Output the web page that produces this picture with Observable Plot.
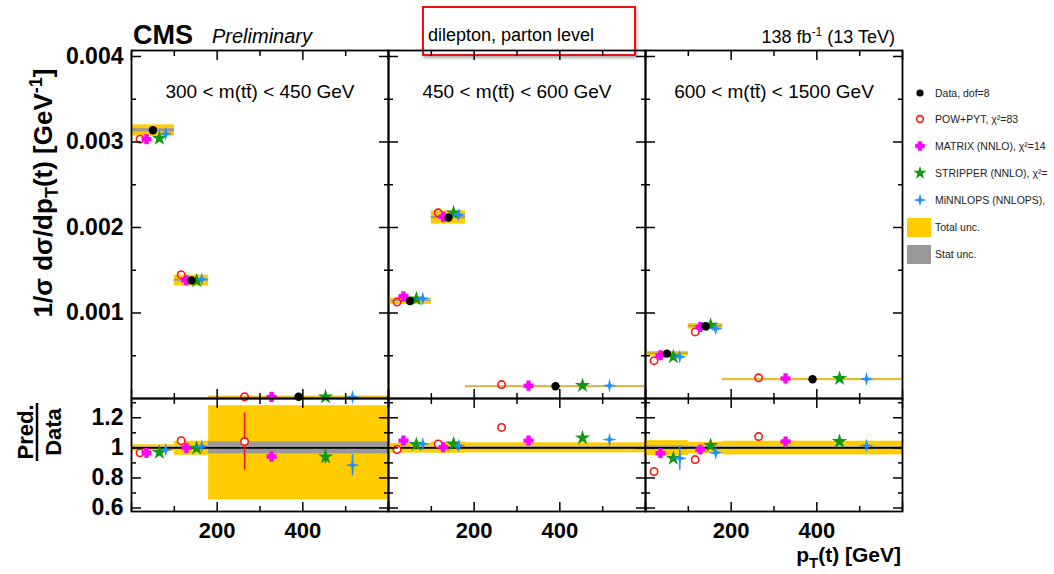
<!DOCTYPE html>
<html>
<head>
<meta charset="utf-8">
<script src="https://cdn.jsdelivr.net/npm/d3@7"></script>
<script src="https://cdn.jsdelivr.net/npm/@observablehq/plot@0.6"></script>
<style>
  html, body { margin: 0; padding: 0; background: #fff; }
  #root { position: relative; width: 1054px; height: 574px; overflow: hidden; font-family: "Liberation Sans", Arial, Helvetica, sans-serif; }
  #annot { position: absolute; left: 422px; top: 6px; width: 210px; height: 46px; border: 2.5px solid #ee1111; box-shadow: 1px 2px 3px rgba(0,0,0,0.35); }
</style>
</head>
<body>
<div id="root"><div id="annot"></div></div>
<script>
// ---------------- data ----------------
const panelLabels = ["300 < m(tt\u0304) < 450 GeV", "450 < m(tt\u0304) < 600 GeV", "600 < m(tt\u0304) < 1500 GeV"];
const binLow  = [0, 100, 180];
const binHigh = [100, 180, 600];

const xTicksMajor = [0, 200, 400, 600];
const xTicksMinor = [100, 300, 500];
const xTickLabels = [200, 400];
const yTicksMain = [0.001, 0.002, 0.003, 0.004];
const yTicksMainMinor = [0.0005, 0.0015, 0.0025, 0.0035];
const yTicksRatio = [0.6, 0.8, 1.0, 1.2];
const yTicksRatioMinor = [0.7, 0.9, 1.1, 1.3];

// measured normalised cross section, per m(tt) panel, per pT bin
const dataXsec = [
  [0.003137, 0.001382, 0.00002],
  [0.001140, 0.002116, 0.000143],
  [0.000525, 0.000845, 0.000225]
];
// relative uncertainties
const totUncUp   = [[0.020, 0.044, 0.280], [0.030, 0.037, 0.033], [0.048, 0.037, 0.044]];
const totUncDown = [[0.022, 0.049, 0.345], [0.035, 0.036, 0.033], [0.051, 0.040, 0.047]];
const statUnc    = [[0.006, 0.008, 0.040], [0.005, 0.006, 0.008], [0.013, 0.010, 0.008]];

// prediction / data ratios and their uncertainties
const ratioPOW      = [[0.967, 1.048, 1.042], [0.989, 1.026, 1.136], [0.843, 0.922, 1.075]];
const errPOW        = [[0.008, 0.012, 0.190], [0.004, 0.005, 0.008], [0.022, 0.010, 0.010]];
const ratioMATRIX   = [[0.967, 1.000, 0.942], [1.048, 1.004, 1.048], [0.964, 0.989, 1.042]];
const errMATRIX     = [[0.005, 0.006, 0.030], [0.004, 0.004, 0.006], [0.012, 0.006, 0.006]];
const ratioSTRIPPER = [[0.970, 0.997, 0.940], [1.022, 1.026, 1.066], [0.931, 1.015, 1.042]];
const errSTRIPPER   = [[0.005, 0.006, 0.045], [0.004, 0.004, 0.006], [0.012, 0.006, 0.006]];
const ratioMINNLO   = [[0.987, 1.010, 0.885], [1.026, 1.015, 1.055], [0.931, 0.967, 1.015]];
const errMINNLO     = [[0.006, 0.008, 0.070], [0.005, 0.005, 0.008], [0.080, 0.012, 0.008]];

const legendLabels = ["Data, dof=8", "POW+PYT, \u03c7\u00b2=83", "MATRIX (NNLO), \u03c7\u00b2=14", "STRIPPER (NNLO), \u03c7\u00b2=", "MiNNLOPS (NNLOPS), ", "Total unc.", "Stat unc."];

// ---------------- styles ----------------
const FONT = '"Liberation Sans", Arial, Helvetica, sans-serif';
const YELLOW = "#ffcc00", GRAY = "#999999";
const star4 = {
  draw(ctx, size) {
    const r = Math.sqrt(size) * 0.72, w = r * 0.2;
    ctx.moveTo(0, -r); ctx.lineTo(w, -w); ctx.lineTo(r, 0); ctx.lineTo(w, w);
    ctx.lineTo(0, r); ctx.lineTo(-w, w); ctx.lineTo(-r, 0); ctx.lineTo(-w, -w); ctx.closePath();
  }
};
const models = [
  {ratio: ratioPOW, err: errPOW, slot: -2, color: "#ff1111", symbol: "circle", fill: "none", r: 3.7},
  {ratio: ratioMATRIX, err: errMATRIX, slot: -1, color: "#ff00ff", symbol: "cross", fill: "#ff00ff", r: 3.6},
  {ratio: ratioSTRIPPER, err: errSTRIPPER, slot: 1, color: "#119911", symbol: "star", fill: "#119911", r: 4.8},
  {ratio: ratioMINNLO, err: errMINNLO, slot: 2, color: "#1e90ff", symbol: star4, fill: "#1e90ff", r: 5.6}
];
const pointSpread = 0.15;

const panelLeft = [131, 388, 645];
const PW = 257, TOP_MAIN = 50, HM = 348, TOP_RATIO = 398, HR = 113;

// ---------------- helpers ----------------
function binRows(p) {
  return binLow.map((lo, b) => {
    const v = dataXsec[p][b], hi = binHigh[b];
    return {lo, hi, c: (lo + hi) / 2, v,
      tLo: v * (1 - totUncDown[p][b]), tHi: v * (1 + totUncUp[p][b]),
      sLo: v * (1 - statUnc[p][b]), sHi: v * (1 + statUnc[p][b]),
      rtLo: 1 - totUncDown[p][b], rtHi: 1 + totUncUp[p][b],
      rsLo: 1 - statUnc[p][b], rsHi: 1 + statUnc[p][b]};
  });
}
function modelRows(p, m) {
  return binLow.map((lo, b) => {
    const hi = binHigh[b], w = hi - lo, r = m.ratio[p][b], e = m.err[p][b];
    return {x: (lo + hi) / 2 + m.slot * pointSpread * w, r, rLo: r - e, rHi: r + e, v: dataXsec[p][b] * r};
  });
}
function symbolStroke(m) {
  // open circle: coloured outline; cross: same-colour rounded outline (ROOT "full cross" look)
  if (m.fill === "none") return m.color;
  if (m.symbol === "cross") return m.color;
  return "none";
}
function frameAxes(yMaj, yMin, fmtY, showY, showX) {
  const tk = {tickFormat: () => "", stroke: "black", strokeWidth: 1.5, label: null};
  const m = [];
  for (const [ticks, size] of [[xTicksMajor, 9], [xTicksMinor, 5]]) {
    m.push(Plot.axisX(ticks, {...tk, anchor: "bottom", tickSize: size, dy: -size}));
    m.push(Plot.axisX(ticks, {...tk, anchor: "top", tickSize: size, dy: size}));
  }
  for (const [ticks, size] of [[yMaj, 10], [yMin, 5]]) {
    m.push(Plot.axisY(ticks, {...tk, anchor: "left", tickSize: size, dx: size}));
    m.push(Plot.axisY(ticks, {...tk, anchor: "right", tickSize: size, dx: -size}));
  }
  if (showY) m.push(Plot.axisY(yMaj, {anchor: "left", tickSize: 0, tickPadding: 8, tickFormat: fmtY, fontSize: 23, fontWeight: "bold", label: null, fill: "black"}));
  if (showX) m.push(Plot.axisX(xTickLabels, {anchor: "bottom", tickSize: 0, tickPadding: 11, fontSize: 22, fontWeight: "bold", label: null, fill: "black"}));
  return m;
}
const baseOpts = {
  width: PW, marginLeft: 0, marginRight: 0, marginTop: 0, marginBottom: 0,
  style: {background: "transparent", overflow: "visible", fontFamily: FONT, color: "black"}
};

const root = document.getElementById("root");
function place(el, left, top) {
  el.style.position = "absolute"; el.style.left = left + "px"; el.style.top = top + "px";
  root.appendChild(el);
}

// ---------------- panels ----------------
for (let p = 0; p < 3; p++) {
  const bins = binRows(p);
  const mainMarks = [
    Plot.ruleY(bins, {x1: "lo", x2: "hi", y: "v", stroke: "#c8b46e", strokeWidth: 2}),
    Plot.rect(bins, {x1: "lo", x2: "hi", y1: "tLo", y2: "tHi", fill: YELLOW}),
    Plot.rect(bins, {x1: "lo", x2: "hi", y1: "sLo", y2: "sHi", fill: GRAY})
  ];
  for (const m of models) {
    mainMarks.push(Plot.dot(modelRows(p, m), {x: "x", y: "v", symbol: m.symbol, r: m.r,
      fill: m.fill, stroke: symbolStroke(m), strokeWidth: 1.6, strokeLinejoin: "round"}));
  }
  mainMarks.push(Plot.dot(bins, {x: "c", y: "v", r: 4.2, fill: "black"}));
  mainMarks.push(Plot.text([panelLabels[p]], {frameAnchor: "top", dy: 34, fontSize: 19, fill: "black"}));
  mainMarks.push(...frameAxes(yTicksMain, yTicksMainMinor, d3.format(".3f"), p === 0, false));
  mainMarks.push(Plot.frame({stroke: "black", strokeWidth: 1.8}));
  const mainPlot = Plot.plot({...baseOpts, height: HM,
    x: {domain: [0, 600], axis: null, label: null},
    y: {domain: [0, 0.00407], axis: null, label: null},
    marks: mainMarks});
  place(mainPlot, panelLeft[p], TOP_MAIN);

  const ratioMarks = [
    Plot.rect(bins, {x1: "lo", x2: "hi", y1: "rtLo", y2: "rtHi", fill: YELLOW}),
    Plot.rect(bins, {x1: "lo", x2: "hi", y1: "rsLo", y2: "rsHi", fill: GRAY}),
    Plot.ruleY([1], {stroke: "black", strokeWidth: 1.6})
  ];
  for (const m of models) {
    const rows = modelRows(p, m);
    ratioMarks.push(Plot.ruleX(rows, {x: "x", y1: "rLo", y2: "rHi", stroke: m.color, strokeWidth: 1.6}));
    ratioMarks.push(Plot.dot(rows, {x: "x", y: "r", symbol: m.symbol, r: m.r,
      fill: m.fill === "none" ? "white" : m.fill, stroke: symbolStroke(m), strokeWidth: 1.6, strokeLinejoin: "round"}));
  }
  ratioMarks.push(...frameAxes(yTicksRatio, yTicksRatioMinor, d => d === 1 ? "1" : d.toFixed(1), p === 0, true));
  ratioMarks.push(Plot.frame({stroke: "black", strokeWidth: 1.8}));
  const ratioPlot = Plot.plot({...baseOpts, height: HR,
    x: {domain: [0, 600], axis: null, label: null},
    y: {domain: [0.577, 1.328], axis: null, label: null},
    marks: ratioMarks});
  place(ratioPlot, panelLeft[p], TOP_RATIO);
}

// ---------------- titles, labels, legend ----------------
const svg = d3.create("svg").attr("width", 1054).attr("height", 574)
  .style("position", "absolute").style("left", "0px").style("top", "0px")
  .style("font-family", FONT).style("pointer-events", "none");

svg.append("text").attr("x", 133).attr("y", 44).attr("font-size", 27).attr("font-weight", "bold").text("CMS");
svg.append("text").attr("x", 212).attr("y", 43).attr("font-size", 20).attr("font-style", "italic").text("Preliminary");
svg.append("text").attr("x", 428).attr("y", 41).attr("font-size", 18).text("dilepton, parton level");
const lumi = svg.append("text").attr("x", 895).attr("y", 43).attr("font-size", 18).attr("text-anchor", "end");
lumi.append("tspan").text("138 fb");
lumi.append("tspan").attr("dy", -7).attr("font-size", 12).text("-1");
lumi.append("tspan").attr("dy", 7).text(" (13 TeV)");

// y title
const yt = svg.append("text").attr("transform", "translate(52,193) rotate(-90)")
  .attr("text-anchor", "middle").attr("font-size", 26).attr("font-weight", "bold");
yt.append("tspan").text("1/\u03c3 d\u03c3/dp");
yt.append("tspan").attr("dy", 6).attr("font-size", 18).text("T");
yt.append("tspan").attr("dy", -6).text("(t) [GeV");
yt.append("tspan").attr("dy", -10).attr("font-size", 18).text("-1");
yt.append("tspan").attr("dy", 10).text("]");

// ratio title
const rt = svg.append("g").attr("transform", "translate(37,432) rotate(-90)")
  .attr("font-size", 22).attr("font-weight", "bold");
rt.append("text").attr("x", 0).attr("y", -4).attr("text-anchor", "middle").text("Pred.");
rt.append("text").attr("x", 0).attr("y", 24).attr("text-anchor", "middle").text("Data");
rt.append("line").attr("x1", -29).attr("x2", 29).attr("y1", 0).attr("y2", 0).attr("stroke", "black").attr("stroke-width", 2.5);

// x title
const xt = svg.append("text").attr("x", 901).attr("y", 562).attr("text-anchor", "end")
  .attr("font-size", 21).attr("font-weight", "bold");
xt.append("tspan").text("p");
xt.append("tspan").attr("dy", 6).attr("font-size", 15).text("T");
xt.append("tspan").attr("dy", -6).text("(t) [GeV]");

// legend
const legY = [93, 119, 146, 173, 200];
const legSym = [
  {type: d3.symbolCircle, size: 40, fill: "black", stroke: "none"},
  {type: d3.symbolCircle, size: 36, fill: "none", stroke: "#ff1111"},
  {type: d3.symbolCross, size: 36, fill: "#ff00ff", stroke: "#ff00ff"},
  {type: d3.symbolStar, size: 55, fill: "#119911", stroke: "none"},
  {type: star4, size: 90, fill: "#1e90ff", stroke: "none"}
];
legSym.forEach((s, i) => {
  svg.append("path").attr("d", d3.symbol(s.type, s.size)()).attr("transform", `translate(920,${legY[i]})`)
    .attr("fill", s.fill).attr("stroke", s.stroke).attr("stroke-width", 1.6).attr("stroke-linejoin", "round");
  svg.append("text").attr("x", 935).attr("y", legY[i] + 4).attr("font-size", 10.5).attr("fill", "#222").text(legendLabels[i]);
});
svg.append("rect").attr("x", 907).attr("y", 218).attr("width", 24).attr("height", 19).attr("fill", YELLOW);
svg.append("text").attr("x", 935).attr("y", 231).attr("font-size", 10.5).attr("fill", "#222").text(legendLabels[5]);
svg.append("rect").attr("x", 907).attr("y", 245).attr("width", 24).attr("height", 19).attr("fill", GRAY);
svg.append("text").attr("x", 935).attr("y", 258).attr("font-size", 10.5).attr("fill", "#222").text(legendLabels[6]);

root.appendChild(svg.node());
</script>
</body>
</html>
